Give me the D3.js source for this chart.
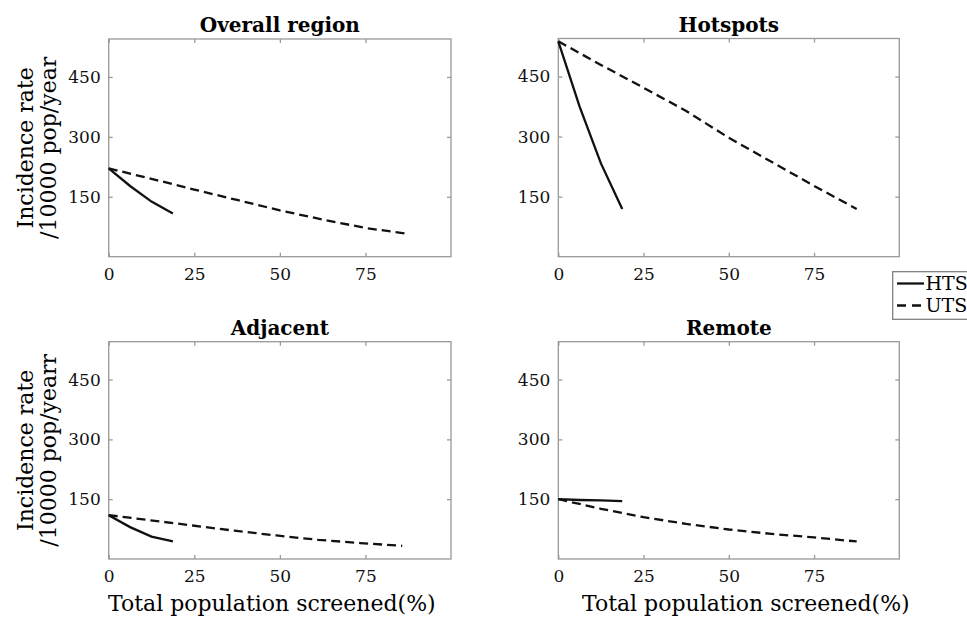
<!DOCTYPE html>
<html>
<head>
<meta charset="utf-8">
<script src="https://cdn.jsdelivr.net/npm/d3@7"></script>
<style>
  body { margin: 0; background: #fff; }
  svg { display: block; font-family: "DejaVu Serif", serif; }
</style>
</head>
<body>
<div id="chart"></div>
<script>
// Data (incidence per 100000 pop/year vs % screened)
const panelTitles = ["Overall region", "Hotspots", "Adjacent", "Remote"];
const htsX = [0, 6.25, 12.5, 18.75];
const utsX = [0, 12.5, 25, 37.5, 50, 62.5, 75, 87.5];
const utsXAdjacent = [0, 12.25, 24.5, 36.75, 49, 61.25, 73.5, 85.75];

const htsOverall = [221, 177, 138, 108];
const utsOverall = [221, 195, 168, 142, 116, 93, 72, 57];
const htsHotspots = [538, 375, 233, 119];
const utsHotspots = [538, 479, 422, 364, 297, 237, 177, 119];
const htsAdjacent = [110, 80, 56, 44];
const utsAdjacent = [110, 97, 84, 71, 59, 48, 40, 33];
const htsRemote = [150, 148, 147, 145];
const utsRemote = [150, 126, 105, 88, 74, 63, 54, 44];

const xTicks = [0, 25, 50, 75];
const yTicks = [150, 300, 450];
const seriesNames = ["HTS", "UTS"];

const width = 967, height = 621;
const xMax = 100, yMax = 545;

// Panel geometry
const panels = [
  { title: panelTitles[0], hts: htsOverall, uts: utsOverall, ux: utsX,
    x0: 108.7, x1: 451, y0: 39, y1: 256.7, ylab: ["Incidence rate", "/10000 pop/year"] },
  { title: panelTitles[1], hts: htsHotspots, uts: utsHotspots, ux: utsX,
    x0: 558.3, x1: 899.3, y0: 38.5, y1: 256.7 },
  { title: panelTitles[2], hts: htsAdjacent, uts: utsAdjacent, ux: utsXAdjacent,
    x0: 108.7, x1: 451, y0: 341.7, y1: 559, ylab: ["Incidence rate", "/10000 pop/yearr"], xlab: -8 },
  { title: panelTitles[3], hts: htsRemote, uts: utsRemote, ux: utsX,
    x0: 558.3, x1: 899.3, y0: 341.7, y1: 559, xlab: 17 }
];

const svg = d3.select("#chart").append("svg")
  .attr("width", width)
  .attr("height", height);

const axisColor = "#999";

panels.forEach(p => {
  const x = d3.scaleLinear().domain([0, xMax]).range([p.x0, p.x1]);
  const y = d3.scaleLinear().domain([0, yMax]).range([p.y1, p.y0]);
  const g = svg.append("g");

  // ticks on all four sides, pointing inward
  const axes = [
    { ax: d3.axisBottom(x).tickValues(xTicks), t: `translate(0,${p.y1})`, lab: true, pad: 11 },
    { ax: d3.axisTop(x).tickValues(xTicks), t: `translate(0,${p.y0})`, lab: false, pad: 6 },
    { ax: d3.axisLeft(y).tickValues(yTicks), t: `translate(${p.x0},0)`, lab: true, pad: 8 },
    { ax: d3.axisRight(y).tickValues(yTicks), t: `translate(${p.x1},0)`, lab: false, pad: 6 }
  ];
  axes.forEach(a => {
    const ag = g.append("g")
      .attr("transform", a.t)
      .call(a.ax.tickSizeInner(-4).tickSizeOuter(0).tickPadding(a.pad));
    ag.attr("font-family", "DejaVu Serif").attr("font-size", 17);
    ag.select(".domain").remove();
    ag.selectAll(".tick line").attr("stroke", axisColor).attr("stroke-width", 1.3);
    if (!a.lab) ag.selectAll(".tick text").remove();
    ag.selectAll(".tick text").attr("fill", "#111");
  });

  g.append("rect")
    .attr("x", p.x0).attr("y", p.y0)
    .attr("width", p.x1 - p.x0).attr("height", p.y1 - p.y0)
    .attr("fill", "none")
    .attr("stroke", axisColor)
    .attr("stroke-width", 1.3);

  const line = d3.line()
    .x(d => x(d[0]))
    .y(d => y(d[1]));

  g.append("path")
    .datum(p.uts.map((v, i) => [p.ux[i], v]))
    .attr("d", line)
    .attr("fill", "none")
    .attr("stroke", "#111")
    .attr("stroke-width", 2.3)
    .attr("stroke-dasharray", "9,5");

  g.append("path")
    .datum(p.hts.map((v, i) => [htsX[i], v]))
    .attr("d", line)
    .attr("fill", "none")
    .attr("stroke", "#111")
    .attr("stroke-width", 2.3);

  // title
  g.append("text")
    .attr("x", (p.x0 + p.x1) / 2)
    .attr("y", p.y0 - 7)
    .attr("text-anchor", "middle")
    .style("font-size", "20px")
    .style("font-weight", "bold")
    .text(p.title);

  if (p.ylab) {
    const cy = (p.y0 + p.y1) / 2;
    p.ylab.forEach((s, i) => {
      g.append("text")
        .attr("transform", `translate(${33 + i * 23},${cy}) rotate(-90)`)
        .attr("text-anchor", "middle")
        .style("font-size", "22px")
        .text(s);
    });
  }

  if (p.xlab !== undefined) {
    g.append("text")
      .attr("x", (p.x0 + p.x1) / 2 + p.xlab)
      .attr("y", 611)
      .attr("text-anchor", "middle")
      .style("font-size", "22px")
      .text("Total population screened(%)");
  }
});

// Legend
const legend = svg.append("g");
legend.append("rect")
  .attr("x", 892.7).attr("y", 271.7)
  .attr("width", 100).attr("height", 47.6)
  .attr("fill", "#fff")
  .attr("stroke", "#777")
  .attr("stroke-width", 1.2);

seriesNames.forEach((name, i) => {
  const ly = 283.5 + i * 22;
  legend.append("line")
    .attr("x1", 897).attr("x2", 924)
    .attr("y1", ly).attr("y2", ly)
    .attr("stroke", "#111")
    .attr("stroke-width", 2.3)
    .attr("stroke-dasharray", i === 1 ? "9,6" : null);
  legend.append("text")
    .attr("x", 925.5)
    .attr("y", ly + 6.5)
    .style("font-size", "19px")
    .text(name);
});
</script>
</body>
</html>
